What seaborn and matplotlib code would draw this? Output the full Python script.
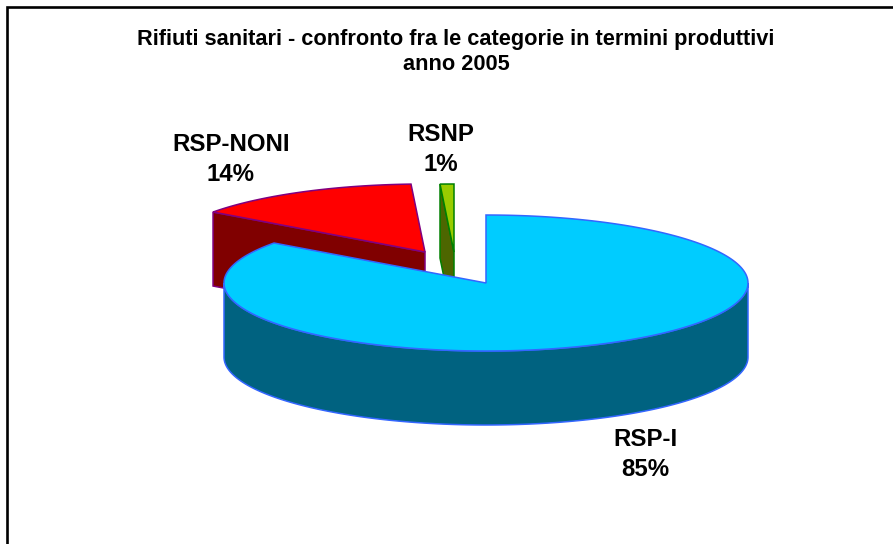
import numpy as np
import matplotlib
matplotlib.use("Agg")
import matplotlib.pyplot as plt
import seaborn as sns

labels = ["RSP-I", "RSP-NONI", "RSNP"]
shares = [85, 14.15, 0.85]
title_lines = ["Rifiuti sanitari - confronto fra le categorie in termini produttivi", "anno 2005"]

top_colors = ["#00CCFF", "#FF0000", "#99CC00"]
side_colors = ["#006280", "#800000", "#4D6600"]
edge_colors = ["#3366FF", "#800080", "#008000"]
apex_x = [486, 425, 454]
apex_y = [283, 252, 252]
label_x = [645, 231, 441]
label_base = [446, 151, 141]

rx, ry, depth = 262, 68, 74

sns.set_theme(style="white")
plt.rcParams["font.family"] = ["Liberation Sans", "DejaVu Sans"]

fig = plt.figure(figsize=(8.93, 5.44), dpi=100)
ax = fig.add_axes([0, 0, 1, 1])
ax.set_xlim(0, 893)
ax.set_ylim(544, 0)
ax.axis("off")

# frame, only top and left show in the original
ax.plot([7, 7, 893], [544, 7, 7], color="black", lw=1.9, solid_joinstyle="miter")


def rim(cx, cy, a0, a1):
    # angles clockwise from 12 o'clock, as in the spreadsheet pie
    t = np.radians(np.linspace(a0, a1, 300))
    return cx + rx * np.sin(t), cy - ry * np.cos(t)


# turn the shares into start/end angles
ends = np.cumsum(shares) / sum(shares) * 360
starts = np.r_[0, ends[:-1]]

# back slices first, the big one goes on top of them
for i in [1, 2, 0]:
    cx, cy = apex_x[i], apex_y[i]
    x, y = rim(cx, cy, starts[i], ends[i])
    if i == 0:
        # outer wall of the front half
        wx, wy = rim(cx, cy, 90, 270)
        ax.fill(np.r_[wx, wx[::-1]], np.r_[wy, wy[::-1] + depth],
                fc=side_colors[i], ec=edge_colors[i], lw=1.1)
    else:
        # cut face, running from the rim down to the apex
        ax.fill([x[0], cx, cx, x[0]], [y[0], cy, cy + depth, y[0] + depth],
                fc=side_colors[i], ec=edge_colors[i], lw=1.1)
    ax.fill(np.r_[cx, x], np.r_[cy, y], fc=top_colors[i], ec=edge_colors[i], lw=1.1)

for i in range(len(labels)):
    ax.text(label_x[i], label_base[i], labels[i], ha="center", va="baseline",
            fontsize=17.3, fontweight="bold", color="black")
    ax.text(label_x[i], label_base[i] + 30, f"{shares[i]:.0f}%", ha="center", va="baseline",
            fontsize=17.3, fontweight="bold", color="black")

ax.text(456, 45, title_lines[0], ha="center", va="baseline", fontsize=15.65, fontweight="bold", color="black")
ax.text(456, 70, title_lines[1], ha="center", va="baseline", fontsize=15.65, fontweight="bold", color="black")

fig.savefig("out.png", dpi=100, facecolor="white")
